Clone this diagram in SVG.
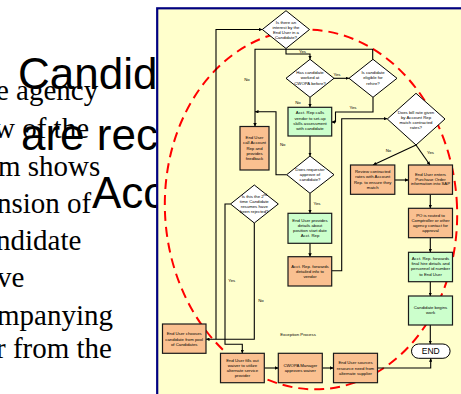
<svg xmlns="http://www.w3.org/2000/svg" width="461" height="394" viewBox="0 0 461 394">
  <style>
    .serif { font-family: "Liberation Serif", "Times New Roman", serif; font-size: 29px; fill: #000; }
    .big { font-family: "Liberation Sans", Arial, sans-serif; font-size: 44px; fill: #000; }
    .t { font-family: "Liberation Sans", Arial, sans-serif; font-size: 4.3px; fill: #000; text-anchor: middle; }
    .lbl { font-family: "Liberation Sans", Arial, sans-serif; font-size: 4.3px; fill: #000; text-anchor: middle; }
    .box-o { fill: #FAC090; stroke: #1a1a1a; stroke-width: 1.2; }
    .box-g { fill: #CCFFCC; stroke: #1a1a1a; stroke-width: 1.2; }
    .dia { fill: #FFFFFF; stroke: #000; stroke-width: 1; }
    .conn path { fill: none; stroke: #000; stroke-width: 1.1; marker-end: url(#ah); }
  </style>
  <defs>
    <marker id="ah" viewBox="0 0 6 6" refX="6" refY="3" markerWidth="3.5" markerHeight="3.5" markerUnits="userSpaceOnUse" orient="auto">
      <path d="M0,0 L6,3 L0,6 z" fill="#000"/>
    </marker>
  </defs>

  <rect x="0" y="0" width="461" height="394" fill="#FFFFFF"/>

  <!-- slide body text (serif) -->
  <g id="body-text">
    <text class="serif" x="-4" y="100">e agency</text>
    <text class="serif" x="-6" y="138">w of the</text>
    <text class="serif" x="-2" y="176">m shows</text>
    <text class="serif" x="-3" y="213">nsion of</text>
    <text class="serif" x="-4" y="250">ndidate</text>
    <text class="serif" x="-3" y="287">ve</text>
    <text class="serif" x="-3" y="325">mpanying</text>
    <text class="serif" x="-4" y="358">r from the</text>
  </g>

  <!-- slide title (sans) -->
  <g id="title-text">
    <text class="big" x="18" y="89">Candid</text>
    <text class="big" x="21" y="150">are rec</text>
    <text class="big" x="92" y="208">Acc</text>
  </g>

  <!-- flowchart panel -->
  <rect id="panel" x="157.2" y="8.3" width="310" height="395" fill="#FFFFCC" stroke="#000080" stroke-width="2.2"/>

  <!-- highlight ring around the main process (sits behind the nodes) -->
  <ellipse id="highlight" cx="311" cy="209.5" rx="146" ry="180" transform="rotate(-4 311 209.5)" fill="none" stroke="#FF0000" stroke-width="2" stroke-dasharray="10 6"/>

  <!-- connectors -->
  <g id="connectors" class="conn">
    <path d="M254.3,223 V339.3 H206"/>
    <path d="M216,339.3 V29.5 H262.3"/>
    <path d="M230.5,204 H225 V344.3 H242.3 V353.3"/>
    <path d="M286,48.5 V54 H310 V59.3"/>
    <path d="M372.7,59.3 V49.3 H255 V126.5"/>
    <path d="M334,78.3 H349"/>
    <path d="M310,97.3 V107.3"/>
    <path d="M373,97.3 V112 H335.5 V122 H331.7"/>
    <path d="M310,136 V156"/>
    <path d="M286.7,174.7 H276 V111.7 H255"/>
    <path d="M310,193.3 V213.3"/>
    <path d="M310,243 V256.7"/>
    <path d="M331.7,270.7 H341.7 V118.7 H387.3"/>
    <path d="M416,145 L373,165"/>
    <path d="M416,145 L430,165"/>
    <path d="M395,180 H408.3"/>
    <path d="M430.3,194.3 V208.3"/>
    <path d="M430.3,237.7 V252.3"/>
    <path d="M430.3,281.7 V296"/>
    <path d="M430.3,325 V344"/>
    <path d="M264.3,368 H278.3"/>
    <path d="M322.3,368 H333.3"/>
    <path d="M377.7,368 H430.7 V358.3"/>
  </g>

  <!-- branch labels -->
  <g id="labels">
    <text class="lbl" x="247" y="80.5">No</text>
    <text class="lbl" x="302.5" y="53">Yes</text>
    <text class="lbl" x="337" y="75.5">Yes</text>
    <text class="lbl" x="298" y="103.5">No</text>
    <text class="lbl" x="353" y="109">Yes</text>
    <text class="lbl" x="282.7" y="145.5">No</text>
    <text class="lbl" x="317" y="204.5">Yes</text>
    <text class="lbl" x="388.5" y="152">No</text>
    <text class="lbl" x="430.5" y="154">Yes</text>
    <text class="lbl" x="231.7" y="282">Yes</text>
    <text class="lbl" x="261" y="302">No</text>
    <text class="lbl" x="298" y="335.8">Exception Process</text>
  </g>

  <!-- decisions -->
  <g id="d-interest">
    <polygon class="dia" points="286,10.7 309.5,29.5 286,48.5 262.3,29.5"/>
    <text class="t" x="286" y="23.8">Is there an</text>
    <text class="t" x="286" y="29">interest by the</text>
    <text class="t" x="286" y="34.2">End User in a</text>
    <text class="t" x="286" y="39.4">Candidate?</text>
  </g>
  <g id="d-worked">
    <polygon class="dia" points="310,59.3 334,78.3 310,97.3 286,78.3"/>
    <text class="t" x="310" y="74.2">Has candidate</text>
    <text class="t" x="310" y="79.4">worked at</text>
    <text class="t" x="310" y="84.6">CWOPA before?</text>
  </g>
  <g id="d-eligible">
    <polygon class="dia" points="373,59.3 397,78.3 373,97.3 349,78.3"/>
    <text class="t" x="373" y="74">Is candidate</text>
    <text class="t" x="373" y="79.4">eligible for</text>
    <text class="t" x="373" y="84.6">rehire?</text>
  </g>
  <g id="d-billrate">
    <polygon class="dia" points="416,93.3 445,119 416,145 387.3,119"/>
    <text class="t" x="416" y="113.8">Does bill rate given</text>
    <text class="t" x="416" y="118.8">by Account Rep</text>
    <text class="t" x="416" y="123.8">match contracted</text>
    <text class="t" x="416" y="128.8">rates?</text>
  </g>
  <g id="d-approve">
    <polygon class="dia" points="310,156 334,174.7 310,193.3 286.7,174.7"/>
    <text class="t" x="310" y="170.8">Does requestor</text>
    <text class="t" x="310" y="175.9">approve of</text>
    <text class="t" x="310" y="181">candidate?</text>
  </g>
  <g id="d-rejected">
    <polygon class="dia" points="254.3,185 278.3,204 254.3,223 230.5,204"/>
    <text class="t" x="254.3" y="197.5">Is this the 2<tspan font-size="3" baseline-shift="super">nd</tspan></text>
    <text class="t" x="254.3" y="202.6">time Candidate</text>
    <text class="t" x="254.3" y="207.7">resumes have</text>
    <text class="t" x="254.3" y="212.6">been rejected?</text>
  </g>

  <!-- process steps -->
  <g id="p-vendor-assess">
    <rect class="box-g" x="288" y="107.3" width="43.7" height="28.7"/>
    <text class="t" x="310" y="114.2">Acct. Rep calls</text>
    <text class="t" x="310" y="119.6">vendor to set-up</text>
    <text class="t" x="310" y="125">skills assessment</text>
    <text class="t" x="310" y="130.4">with candidate</text>
  </g>
  <g id="p-feedback">
    <rect class="box-o" x="240" y="126.5" width="29" height="43.5"/>
    <text class="t" x="254.5" y="138.8">End User</text>
    <text class="t" x="254.5" y="144.2">call Account</text>
    <text class="t" x="254.5" y="149.6">Rep and</text>
    <text class="t" x="254.5" y="155">provides</text>
    <text class="t" x="254.5" y="160.2">feedback</text>
  </g>
  <g id="p-position">
    <rect class="box-g" x="288" y="213.3" width="43.7" height="30"/>
    <text class="t" x="310" y="221.8">End User provides</text>
    <text class="t" x="310" y="226.9">details about</text>
    <text class="t" x="310" y="232">position start date</text>
    <text class="t" x="310" y="237.1">Acct. Rep</text>
  </g>
  <g id="p-forward-vendor">
    <rect class="box-o" x="288" y="256.7" width="43.7" height="29.3"/>
    <text class="t" x="310" y="267.8">Acct. Rep. forwards</text>
    <text class="t" x="310" y="272.9">detailed info to</text>
    <text class="t" x="310" y="278">vendor</text>
  </g>
  <g id="p-review-rates">
    <rect class="box-o" x="350.5" y="165" width="44.3" height="29.3"/>
    <text class="t" x="372.7" y="173.2">Review contracted</text>
    <text class="t" x="372.7" y="178.4">rates with Account</text>
    <text class="t" x="372.7" y="183.8">Rep. to ensure they</text>
    <text class="t" x="372.7" y="189">match</text>
  </g>
  <g id="p-enter-po">
    <rect class="box-o" x="408.5" y="165" width="44" height="29.3"/>
    <text class="t" x="430.5" y="175.8">End User enters</text>
    <text class="t" x="430.5" y="180.6">Purchase Order</text>
    <text class="t" x="430.5" y="185">information into SAP</text>
  </g>
  <g id="p-po-routed">
    <rect class="box-o" x="408.5" y="208.3" width="44" height="29.4"/>
    <text class="t" x="430.5" y="216.5">PO is routed to</text>
    <text class="t" x="430.5" y="221.6">Comptroller or other</text>
    <text class="t" x="430.5" y="226.8">agency contact for</text>
    <text class="t" x="430.5" y="231.9">approval</text>
  </g>
  <g id="p-final-details">
    <rect class="box-g" x="408.5" y="252.3" width="44" height="29.4"/>
    <text class="t" x="430.5" y="260">Acct. Rep. forwards</text>
    <text class="t" x="430.5" y="265.2">final hire details and</text>
    <text class="t" x="430.5" y="270.4">personnel id number</text>
    <text class="t" x="430.5" y="275.6">to End User</text>
  </g>
  <g id="p-begins-work">
    <rect class="box-g" x="408.5" y="296" width="44" height="29"/>
    <text class="t" x="430.5" y="308.8">Candidate begins</text>
    <text class="t" x="430.5" y="313.8">work</text>
  </g>
  <g id="t-end">
    <rect x="411.5" y="344" width="38.6" height="14.3" rx="7.15" fill="#FFFFFF" stroke="#000" stroke-width="1"/>
    <text x="430.8" y="354.3" font-family="Liberation Sans, Arial, sans-serif" font-size="8.5" text-anchor="middle">END</text>
  </g>
  <g id="p-choose-pool">
    <rect class="box-o" x="162.5" y="324" width="43.5" height="29.3"/>
    <text class="t" x="184.2" y="335.2">End User chooses</text>
    <text class="t" x="184.2" y="340.5">candidate from pool</text>
    <text class="t" x="184.2" y="345.8">of Candidates</text>
  </g>
  <g id="p-waiver">
    <rect class="box-o" x="220.5" y="353.3" width="43.8" height="29.4"/>
    <text class="t" x="242.4" y="361.5">End User fills out</text>
    <text class="t" x="242.4" y="366.8">waiver to utilize</text>
    <text class="t" x="242.4" y="372.1">alternate service</text>
    <text class="t" x="242.4" y="377.2">provider</text>
  </g>
  <g id="p-manager">
    <rect class="box-o" x="278.3" y="353.3" width="44" height="29.4"/>
    <text class="t" x="300.3" y="367.2">CWOPA Manager</text>
    <text class="t" x="300.3" y="372.2">approves waiver</text>
  </g>
  <g id="p-alt-supplier">
    <rect class="box-o" x="333.5" y="353.3" width="44" height="29.4"/>
    <text class="t" x="355.5" y="364.2">End User sources</text>
    <text class="t" x="355.5" y="369.5">resource need from</text>
    <text class="t" x="355.5" y="374.8">alternate supplier</text>
  </g>
</svg>
